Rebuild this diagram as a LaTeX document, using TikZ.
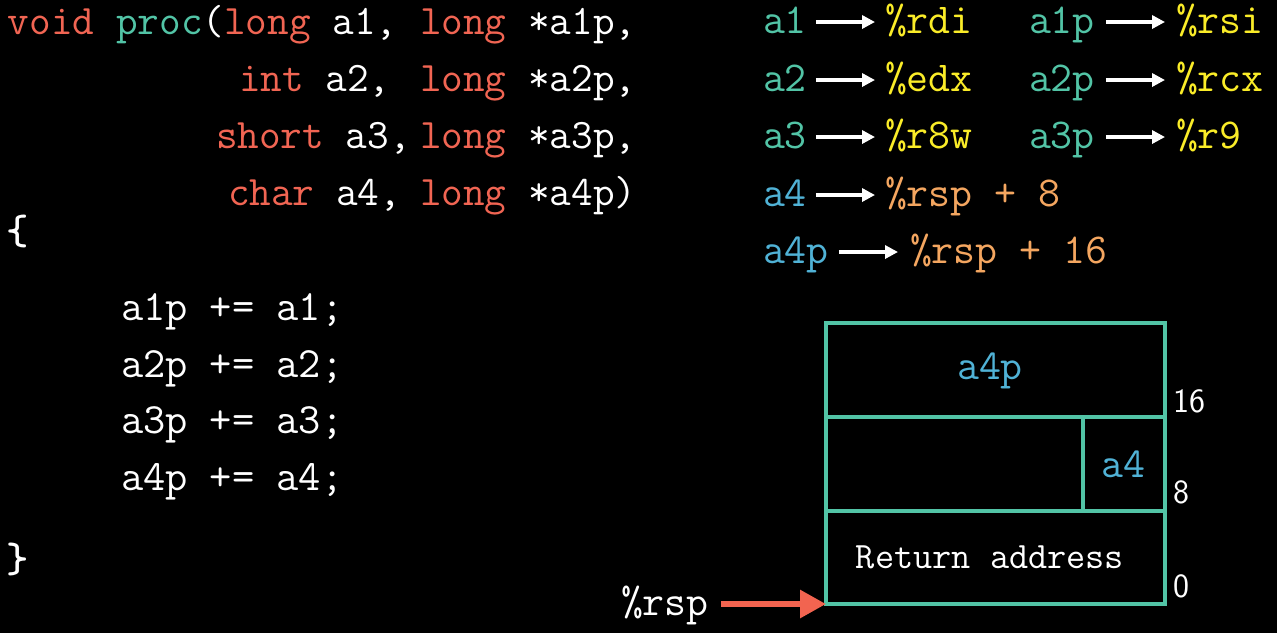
\documentclass[tikz,border=0pt]{standalone}
\usepackage{fontspec}
\usetikzlibrary{arrows.meta}
\newfontfamily\bracefont{lmmonolt10-bold.otf}
\definecolor{typec}{RGB}{241,101,83}
\definecolor{tealc}{RGB}{82,196,166}
\definecolor{bluec}{RGB}{80,178,214}
\definecolor{yellowc}{RGB}{250,236,40}
\definecolor{orangec}{RGB}{244,166,96}
\definecolor{redarrc}{RGB}{242,100,80}
\newcommand\hdfont{\fontsize{21}{25}\selectfont\ttfamily}
\newcommand\bdfont{\fontsize{21.6}{25}\selectfont\ttfamily}
\newcommand\mpfont{\fontsize{21.3}{25}\selectfont\ttfamily}
\newcommand\retfont{\fontsize{18.6}{22}\selectfont\ttfamily}
\newcommand\numfont{\fontsize{17}{20}\selectfont\sffamily}
\begin{document}
\begin{tikzpicture}[x=0.5pt,y=-0.5pt,
  txt/.style={inner sep=0pt, outer sep=0pt, anchor=base west, text=white, font=\hdfont},
  body/.style={txt, font=\bdfont},
  mp/.style={txt, font=\mpfont},
  lbl/.style={inner sep=0pt, outer sep=0pt, anchor=base, font=\mpfont},
  num/.style={inner sep=0pt, outer sep=0pt, anchor=base west, text=white, font=\numfont},
  maparr/.style={draw=white, line width=1.7pt, -{Triangle[length=6.5pt,width=6.5pt]}},
  redarr/.style={draw=redarrc, line width=3pt, -{Triangle[length=13pt,width=13.5pt]}},
  cellbox/.style={draw=tealc, line width=2pt, inner sep=0pt, outer sep=0pt, minimum height=47pt}
]
\fill[black] (0,0) rectangle (1277,633);
\useasboundingbox (0,0) rectangle (1277,633);

% function header
\node[txt] (l1a) at (8,34) {{\color{typec}void} {\color{tealc}proc}({\color{typec}long} a1,};
\node[txt] (l1b) at (420,34) {{\color{typec}long} *a1p,};
\node[txt] (l2a) at (239,91) {{\color{typec}int} a2,};
\node[txt] (l2b) at (420,91) {{\color{typec}long} *a2p,};
\node[txt] (l3a) at (216,148) {{\color{typec}short} a3,};
\node[txt] (l3b) at (420,148) {{\color{typec}long} *a3p,};
\node[txt] (l4a) at (228,205) {{\color{typec}char} a4,};
\node[txt] (l4b) at (420,205) {{\color{typec}long} *a4p)};
\node[txt, font=\mpfont\bracefont] (lbr) at (6,244) {\{};
\node[body] (b1) at (121,320) {a1p += a1;};
\node[body] (b2) at (121,377) {a2p += a2;};
\node[body] (b3) at (121,433) {a3p += a3;};
\node[body] (b4) at (121,490) {a4p += a4;};
\node[txt, font=\mpfont\bracefont] (rbr) at (6,572) {\}};

% register mapping
\node[mp, text=tealc] (ma1) at (763,33) {a1};
\node[mp, text=yellowc] (rdi) at (885,33) {\%rdi};
\node[mp, text=tealc] (ma1p) at (1029,33) {a1p};
\node[mp, text=yellowc] (rsi) at (1176,33) {\%rsi};
\node[mp, text=tealc] (ma2) at (763,91) {a2};
\node[mp, text=yellowc] (edx) at (885,91) {\%edx};
\node[mp, text=tealc] (ma2p) at (1029,91) {a2p};
\node[mp, text=yellowc] (rcx) at (1176,91) {\%rcx};
\node[mp, text=tealc] (ma3) at (763,148) {a3};
\node[mp, text=yellowc] (r8w) at (885,148) {\%r8w};
\node[mp, text=tealc] (ma3p) at (1029,148) {a3p};
\node[mp, text=yellowc] (r9) at (1176,148) {\%r9};
\node[mp, text=bluec] (ma4) at (763,206) {a4};
\node[mp, text=orangec] (sp8) at (885,206) {\%rsp + 8};
\node[mp, text=bluec] (ma4p) at (763,263) {a4p};
\node[mp, text=orangec] (sp16) at (910,263) {\%rsp + 16};

\draw[maparr] ([shift={(9,-11)}]ma1.base east) -- ([shift={(-10,-11)}]rdi.base west);
\draw[maparr] ([shift={(11,-11)}]ma1p.base east) -- ([shift={(-11,-11)}]rsi.base west);
\draw[maparr] ([shift={(9,-11)}]ma2.base east) -- ([shift={(-10,-11)}]edx.base west);
\draw[maparr] ([shift={(11,-11)}]ma2p.base east) -- ([shift={(-11,-11)}]rcx.base west);
\draw[maparr] ([shift={(9,-11)}]ma3.base east) -- ([shift={(-10,-11)}]r8w.base west);
\draw[maparr] ([shift={(11,-11)}]ma3p.base east) -- ([shift={(-11,-11)}]r9.base west);
\draw[maparr] ([shift={(9,-11)}]ma4.base east) -- ([shift={(-10,-11)}]sp8.base west);
\draw[maparr] ([shift={(10,-11)}]ma4p.base east) -- ([shift={(-12,-11)}]sp16.base west);

% stack frame
\node[cellbox, minimum width=169.5pt] (c16) at (995.5,370) {};
\node[cellbox, minimum width=128.5pt] (c8l) at (954.5,464) {};
\node[cellbox, minimum width=41pt] (c8r) at (1124,464) {};
\node[cellbox, minimum width=169.5pt, minimum height=46.5pt] (c0) at (995.5,557.5) {};
\node[lbl, text=bluec] (la4p) at (990,379) {a4p};
\node[lbl, text=bluec] (la4) at (1123,477) {a4};
\node[lbl, text=white, font=\retfont] (lret) at (990,568) {Return address};
\node[num] (n16) at (1173,412) {16};
\node[num] (n8) at (1173,503) {8};
\node[num] (n0) at (1173,597) {0};

\node[mp] (rsp) at (621,615) {\%rsp};
\draw[redarr] ([shift={(12,-11)}]rsp.base east) -- (c0.south west);
\end{tikzpicture}
\end{document}
